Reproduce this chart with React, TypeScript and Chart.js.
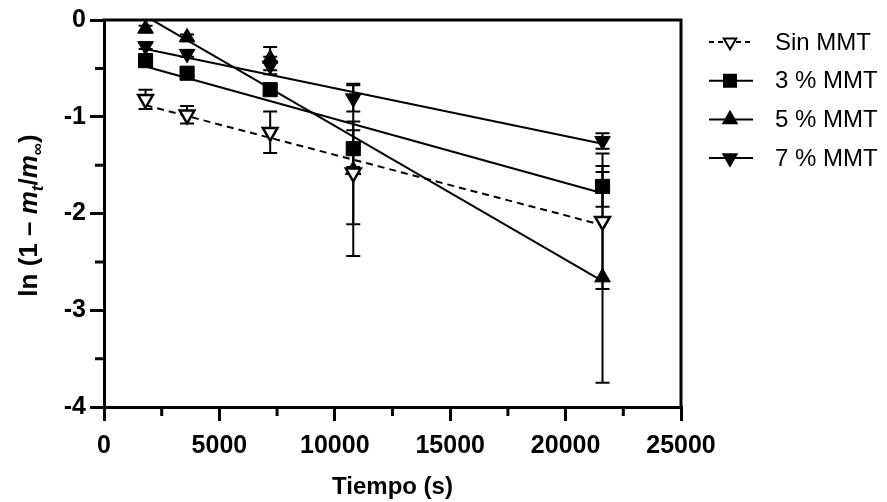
import React, { useEffect, useRef } from 'react';
import { Chart, registerables } from 'chart.js';
import { drawPoint } from 'chart.js/helpers';

Chart.register(...registerables);

const FONT = '"Liberation Sans", Arial, Helvetica, sans-serif';

// ---- data ----
const times = [1800, 3600, 7200, 10800, 21600];

const sinMMT = [-0.82, -0.98, -1.16, -1.58, -2.08];
const sinErr = [0.1, 0.09, 0.215, 0.53, 0.7];

const mmt3 = [-0.42, -0.55, -0.72, -1.33, -1.72];
const mmt3Err = [0.03, 0.03, 0.05, 0.19, 0.21];

const mmt5 = [-0.09, -0.18, -0.4, -1.55, -2.66];
const mmt5Err = [0.03, 0.03, 0.12, 0.89, 1.09];

const mmt7 = [-0.27, -0.35, -0.47, -0.81, -1.25];
const mmt7Err = [0.03, 0.03, 0.09, 0.135, 0.08];

// linear fits (end points)
const fitX = [1800, 21600];
const sinFit = [-0.88, -2.12];
const mmt3Fit = [-0.48, -1.79];
const mmt5Fit = [0.04, -2.7];
const mmt7Fit = [-0.3, -1.28];

const labels = ['Sin MMT', '3 % MMT', '5 % MMT', '7 % MMT'];
const xMinor = [2500, 7500, 12500, 17500, 22500];
const yMinor = [-0.5, -1.5, -2.5, -3.5];

// ---- styles ----
const markerStyles = [
  { pointStyle: 'triangle', rotation: 180, radius: 8.5, fill: '#ffffff', borderWidth: 2.5, dashed: true },
  { pointStyle: 'rect', rotation: 0, radius: 10, fill: '#000000', borderWidth: 1, dashed: false },
  { pointStyle: 'triangle', rotation: 0, radius: 9, fill: '#000000', borderWidth: 1, dashed: false },
  { pointStyle: 'triangle', rotation: 180, radius: 9, fill: '#000000', borderWidth: 1, dashed: false },
];

const seriesValues = [sinMMT, mmt3, mmt5, mmt7];
const seriesErrors = [sinErr, mmt3Err, mmt5Err, mmt7Err];
const fitValues = [sinFit, mmt3Fit, mmt5Fit, mmt7Fit];

const decorPlugin = {
  id: 'decor',
  beforeDatasetsDraw(chart: any) {
    const { ctx, chartArea: a } = chart;
    const x = chart.scales.x;
    const y = chart.scales.y;
    ctx.save();
    ctx.strokeStyle = '#000';
    ctx.lineCap = 'butt';
    // frame (top & right)
    ctx.lineWidth = 3;
    ctx.beginPath();
    ctx.moveTo(a.left - 1.5, a.top);
    ctx.lineTo(a.right, a.top);
    ctx.lineTo(a.right, a.bottom + 1.5);
    ctx.stroke();
    // minor ticks
    ctx.beginPath();
    xMinor.forEach((v) => {
      const px = x.getPixelForValue(v);
      ctx.moveTo(px, a.bottom);
      ctx.lineTo(px, a.bottom + 9);
    });
    yMinor.forEach((v) => {
      const py = y.getPixelForValue(v);
      ctx.moveTo(a.left, py);
      ctx.lineTo(a.left - 9, py);
    });
    ctx.stroke();
    // error bars
    ctx.lineWidth = 2;
    seriesValues.forEach((vals, si) => {
      const errs = seriesErrors[si];
      vals.forEach((v, i) => {
        const px = x.getPixelForValue(times[i]);
        const p1 = y.getPixelForValue(v + errs[i]);
        const p2 = y.getPixelForValue(v - errs[i]);
        ctx.beginPath();
        ctx.moveTo(px, p1);
        ctx.lineTo(px, p2);
        ctx.moveTo(px - 7, p1);
        ctx.lineTo(px + 7, p1);
        ctx.moveTo(px - 7, p2);
        ctx.lineTo(px + 7, p2);
        ctx.stroke();
      });
    });
    ctx.restore();
  },
  afterDraw(chart: any) {
    const { ctx } = chart;
    ctx.save();
    // legend
    const rowY0 = 42;
    const rowStep = 38.7;
    labels.forEach((lab, i) => {
      const st = markerStyles[i];
      const yy = rowY0 + i * rowStep;
      ctx.strokeStyle = '#000';
      ctx.lineWidth = 2;
      ctx.beginPath();
      if (st.dashed) ctx.setLineDash([5, 4]);
      else ctx.setLineDash([]);
      ctx.moveTo(709, yy);
      ctx.lineTo(753, yy);
      ctx.stroke();
      ctx.setLineDash([]);
      ctx.fillStyle = st.fill;
      ctx.strokeStyle = '#000';
      drawPoint(ctx, {
        pointStyle: st.pointStyle,
        rotation: st.rotation,
        radius: st.radius * 0.85,
        borderWidth: st.borderWidth,
      } as any, 730, yy);
      ctx.fillStyle = '#000';
      ctx.font = `24px ${FONT}`;
      ctx.textBaseline = 'middle';
      ctx.textAlign = 'left';
      ctx.fillText(lab, 775, yy + 1);
    });

    // y-axis title: ln (1 – m_t/m_∞)
    const big = `bold 26px ${FONT}`;
    const bigIt = `italic bold 26px ${FONT}`;
    const small = `italic bold 17px ${FONT}`;
    const smallR = `bold 17px ${FONT}`;
    const runs = [
      { t: 'ln (1 – ', f: big, dy: 0 },
      { t: 'm', f: bigIt, dy: 0 },
      { t: 't', f: small, dy: 6 },
      { t: '/', f: big, dy: 0 },
      { t: 'm', f: bigIt, dy: 0 },
      { t: '∞', f: smallR, dy: 6 },
      { t: ')', f: big, dy: 0 },
    ];
    let total = 0;
    runs.forEach((r) => {
      ctx.font = r.f;
      total += ctx.measureText(r.t).width;
    });
    const a = chart.chartArea;
    ctx.translate(37, (a.top + a.bottom) / 2 + 2);
    ctx.rotate(-Math.PI / 2);
    ctx.textBaseline = 'alphabetic';
    ctx.textAlign = 'left';
    ctx.fillStyle = '#000';
    let cx = -total / 2;
    runs.forEach((r) => {
      ctx.font = r.f;
      ctx.fillText(r.t, cx, r.dy);
      cx += ctx.measureText(r.t).width;
    });
    ctx.restore();
  },
};

export default function App() {
  const ref = useRef<HTMLCanvasElement | null>(null);

  useEffect(() => {
    if (!ref.current) return;
    const markerDatasets = seriesValues.map((vals, si) => {
      const st = markerStyles[si];
      return {
        type: 'scatter' as const,
        label: labels[si],
        data: vals.map((v, i) => ({ x: times[i], y: v })),
        showLine: false,
        pointStyle: st.pointStyle,
        rotation: st.rotation,
        pointRadius: st.radius,
        pointBackgroundColor: st.fill,
        pointBorderColor: '#000',
        pointBorderWidth: st.borderWidth,
        clip: false as any,
      };
    });
    const fitDatasets = fitValues.map((vals, si) => ({
      type: 'line' as const,
      label: labels[si] + ' fit',
      data: vals.map((v, i) => ({ x: fitX[i], y: v })),
      borderColor: '#000',
      borderWidth: 2,
      borderDash: markerStyles[si].dashed ? [7, 5] : [],
      pointRadius: 0,
      fill: false,
      tension: 0,
    }));

    const chart = new Chart(ref.current, {
      type: 'scatter',
      data: { datasets: [...markerDatasets, ...fitDatasets] as any },
      options: {
        animation: false,
        responsive: false,
        devicePixelRatio: 1,
        layout: { padding: { left: 0, top: 20, right: 206, bottom: 0 } },
        plugins: { legend: { display: false }, tooltip: { enabled: false } },
        scales: {
          x: {
            type: 'linear',
            min: 0,
            max: 25000,
            afterFit: (s: any) => { s.height = 95; },
            ticks: {
              stepSize: 5000,
              color: '#000',
              padding: 10,
              maxRotation: 0,
              font: { family: FONT, size: 25, weight: 'bold' },
              callback: (v: any) => String(v),
            },
            grid: { drawOnChartArea: false, drawTicks: true, tickLength: 14, lineWidth: 3, color: '#000' },
            border: { display: true, color: '#000', width: 3 },
            title: {
              display: true,
              text: 'Tiempo (s)',
              color: '#000',
              font: { family: FONT, size: 24, weight: 'bold' },
              padding: { top: 0, bottom: 0 },
            },
          },
          y: {
            type: 'linear',
            min: -4,
            max: 0,
            afterFit: (s: any) => { s.width = 104; },
            ticks: {
              stepSize: 1,
              color: '#000',
              padding: 4,
              font: { family: FONT, size: 25, weight: 'bold' },
              callback: (v: any) => String(v),
            },
            grid: { drawOnChartArea: false, drawTicks: true, tickLength: 14, lineWidth: 3, color: '#000' },
            border: { display: true, color: '#000', width: 3 },
          },
        },
      } as any,
      plugins: [decorPlugin],
    });
    return () => chart.destroy();
  }, []);

  return (
    <div style={{ position: 'absolute', left: 0, top: 0, width: 887, height: 502, background: '#fff' }}>
      <canvas ref={ref} width={887} height={502} style={{ width: 887, height: 502, display: 'block' }} />
    </div>
  );
}
